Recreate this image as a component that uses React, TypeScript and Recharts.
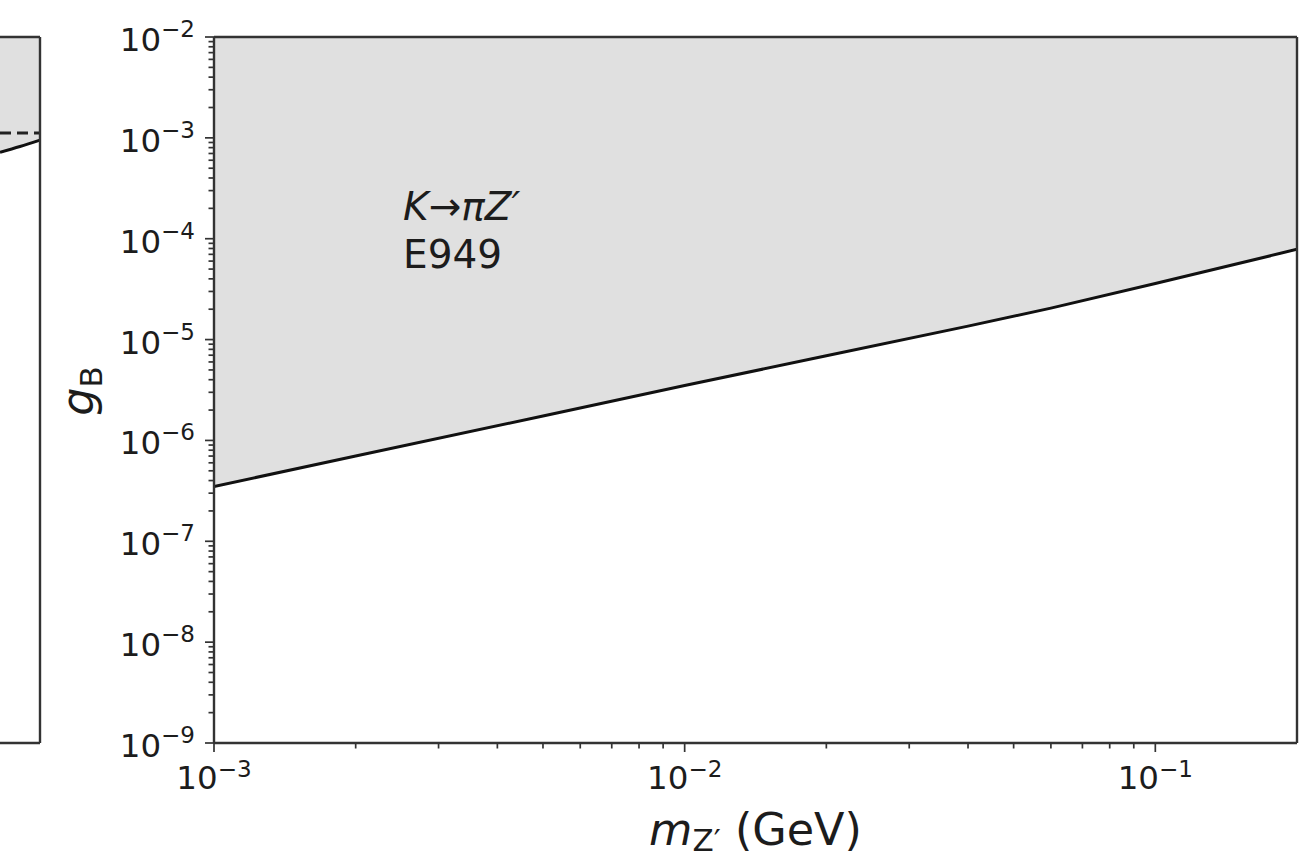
import { ComposedChart, Area, Line, XAxis, YAxis, ReferenceLine } from 'recharts';

// K -> pi Z' (E949) bound
const massGeV = [0.001, 0.002, 0.005, 0.01, 0.02, 0.04, 0.06, 0.1, 0.2];
const gBound = [3.5e-7, 7.0e-7, 1.75e-6, 3.5e-6, 6.9e-6, 1.36e-5, 2.05e-5, 3.6e-5, 7.85e-5];

// clipped neighbour panel on the far left
const leftX = [0, 0.5, 1];
const leftBound = [7.2e-4, 8.2e-4, 9.5e-4];
const leftDashed = [1.12e-3, 1.12e-3, 1.12e-3];

const xMajorTicks = [0.001, 0.01, 0.1];
const yMajorTicks = [1e-9, 1e-8, 1e-7, 1e-6, 1e-5, 1e-4, 1e-3, 1e-2];
const minorSteps = [2, 3, 4, 5, 6, 7, 8, 9];

const X_MIN = 0.001;
const X_MAX = 0.2;
const Y_MIN = 1e-9;
const Y_MAX = 1e-2;

const minorsOf = (majors: number[]) =>
  majors.slice(0, -1).flatMap((d) => minorSteps.map((k) => +(k * d).toPrecision(3)));

const xTicks = [...xMajorTicks, ...minorsOf(xMajorTicks)].sort((a, b) => a - b);
const yTicks = [...yMajorTicks, ...minorsOf(yMajorTicks)].sort((a, b) => a - b);

const mainData = massGeV.map((m, i) => ({ m, g: gBound[i], band: [gBound[i], Y_MAX] }));
const leftData = leftX.map((x, i) => ({ x, g: leftBound[i], d: leftDashed[i], band: [leftBound[i], Y_MAX] }));

const FONT = '"DejaVu Sans", sans-serif';
const INK = '#1c1c1c';
const SPINE = '#333';
const FILL = '#e0e0e0';

const isMajor = (v: number) => Math.abs(Math.log10(v) - Math.round(Math.log10(v))) < 1e-6;
const expOf = (v: number) => Math.round(Math.log10(v));
const fmtExp = (e: number) => (e < 0 ? '\u2212' + Math.abs(e) : String(e));

function XTick(props: any) {
  const { x, y, payload } = props;
  const major = isMajor(payload.value);
  return (
    <g>
      <line x1={x} x2={x} y1={y} y2={y + (major ? 9 : 5.5)} stroke={SPINE} strokeWidth={1.7} />
      {major && (
        <text x={x} y={y + 46} textAnchor="middle" fontFamily={FONT} fontSize={32.5} fill={INK}>
          <tspan>10</tspan>
          <tspan fontSize={23} dy={-12}>{fmtExp(expOf(payload.value))}</tspan>
        </text>
      )}
    </g>
  );
}

function YTick(props: any) {
  const { x, y, payload } = props;
  const major = isMajor(payload.value);
  return (
    <g>
      <line x1={x - (major ? 9 : 5.5)} x2={x} y1={y} y2={y} stroke={SPINE} strokeWidth={1.7} />
      {major && (
        <text x={x - 19} y={y + 14} textAnchor="end" fontFamily={FONT} fontSize={32.5} fill={INK}>
          <tspan>10</tspan>
          <tspan fontSize={23} dy={-14}>{fmtExp(expOf(payload.value))}</tspan>
        </text>
      )}
    </g>
  );
}

export default function App() {
  return (
    <div style={{ position: 'absolute', left: 0, top: 0, width: 1302, height: 859, background: '#fff' }}>
      <div style={{ position: 'absolute', left: 0, top: 0 }}>
        <ComposedChart width={42} height={859} data={leftData} margin={{ top: 37, right: 2, bottom: 116, left: 0 }}>
          <XAxis dataKey="x" type="number" domain={[0, 1]} hide />
          <YAxis type="number" scale="log" domain={[Y_MIN, Y_MAX]} allowDataOverflow hide />
          <Area dataKey="band" type="linear" stroke="none" fill={FILL} fillOpacity={1} isAnimationActive={false} />
          <Line dataKey="d" type="linear" stroke="#222" strokeWidth={3} strokeDasharray="11 6" dot={false} isAnimationActive={false} />
          <Line dataKey="g" type="monotone" stroke="#111" strokeWidth={3} dot={false} isAnimationActive={false} />
          <ReferenceLine y={Y_MAX} stroke={SPINE} strokeWidth={2.4} />
          <ReferenceLine y={Y_MIN} stroke={SPINE} strokeWidth={2.4} />
          <ReferenceLine x={1} stroke={SPINE} strokeWidth={2.4} />
        </ComposedChart>
      </div>

      <div style={{ position: 'absolute', left: 0, top: 0 }}>
        <ComposedChart width={1302} height={859} data={mainData} margin={{ top: 37, right: 5, bottom: 0, left: 0 }}>
          <XAxis
            dataKey="m"
            type="number"
            scale="log"
            domain={[X_MIN, X_MAX]}
            allowDataOverflow
            ticks={xTicks}
            interval={0}
            tick={(p: any) => <XTick {...p} />}
            tickLine={false}
            tickSize={0}
            tickMargin={0}
            axisLine={{ stroke: SPINE, strokeWidth: 2.4 }}
            height={116}
          />
          <YAxis
            type="number"
            scale="log"
            domain={[Y_MIN, Y_MAX]}
            allowDataOverflow
            ticks={yTicks}
            interval={0}
            tick={(p: any) => <YTick {...p} />}
            tickLine={false}
            tickSize={0}
            tickMargin={0}
            axisLine={{ stroke: SPINE, strokeWidth: 2.4 }}
            width={214}
          />
          <Area dataKey="band" type="linear" stroke="none" fill={FILL} fillOpacity={1} isAnimationActive={false} />
          <Line dataKey="g" type="linear" stroke="#111" strokeWidth={3} dot={false} isAnimationActive={false} />
          <ReferenceLine y={Y_MAX} stroke={SPINE} strokeWidth={2.4} />
          <ReferenceLine x={X_MAX} stroke={SPINE} strokeWidth={2.4} />
        </ComposedChart>
      </div>

      <svg width={1302} height={859} style={{ position: 'absolute', left: 0, top: 0, pointerEvents: 'none' }}>
        <text x={403} y={220} fontFamily={FONT} fontSize={39} fill={INK}>
          <tspan fontStyle="italic">K</tspan>
          <tspan>{'\u2192'}</tspan>
          <tspan fontStyle="italic">{'\u03c0Z\u2032'}</tspan>
        </text>
        <text x={403} y={268} fontFamily={FONT} fontSize={39} fill={INK}>E949</text>

        <text x={755.5} y={845} textAnchor="middle" fontFamily={FONT} fontSize={44.5} fill={INK}>
          <tspan fontStyle="italic">m</tspan>
          <tspan fontSize={31} dy={6}>{'Z\u2032'}</tspan>
          <tspan dy={-6}> (GeV)</tspan>
        </text>

        <text
          x={93}
          y={391}
          textAnchor="middle"
          transform="rotate(-90 93 391)"
          fontFamily={FONT}
          fontSize={44.5}
          fill={INK}
        >
          <tspan fontStyle="italic">g</tspan>
          <tspan fontSize={31} dy={9}>B</tspan>
        </text>
      </svg>
    </div>
  );
}
